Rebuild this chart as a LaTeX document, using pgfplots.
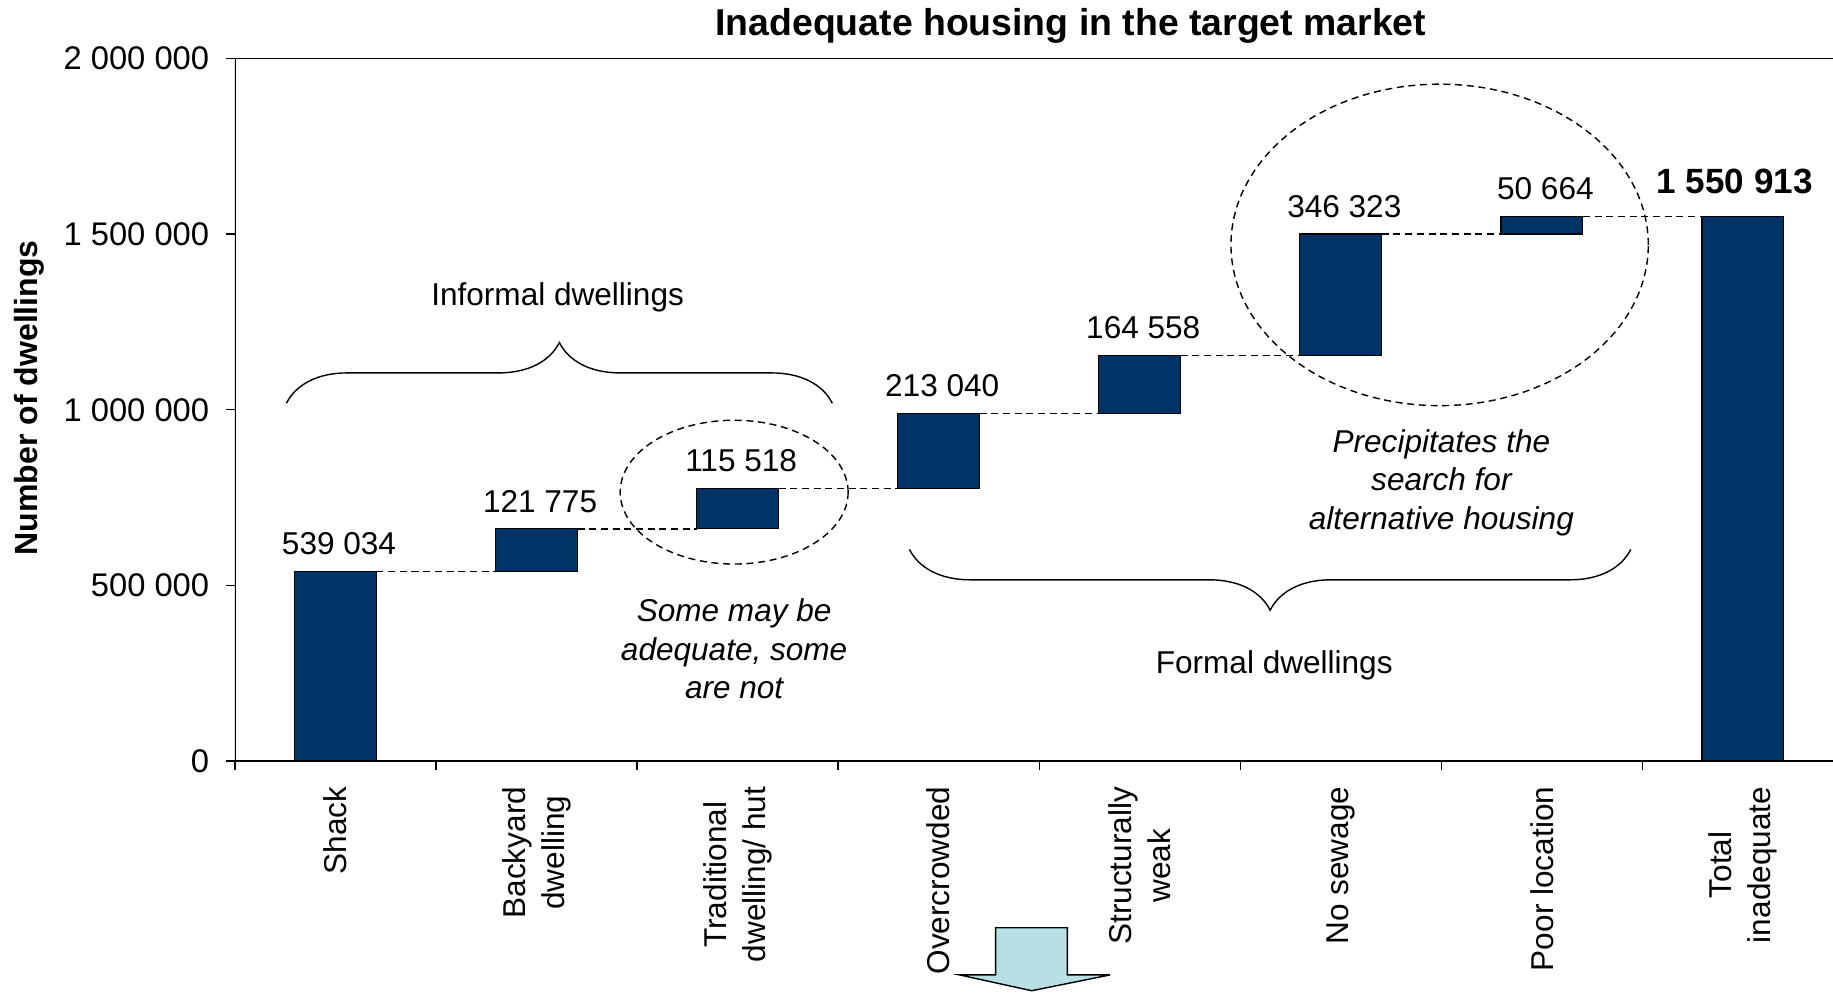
\documentclass[border=0pt]{standalone}
\usepackage{fontspec}
\setmainfont{Liberation Sans}
\usepackage{pgfplots}
\pgfplotsset{compat=1.18}
\usetikzlibrary{decorations.pathreplacing}
\definecolor{navy}{RGB}{0,51,102}
\definecolor{arrowblue}{RGB}{184,224,228}
\newcommand{\lab}{\fontsize{13.5}{16.5}\selectfont}
\begin{document}
\begin{tikzpicture}
\pgfplotsset{
  common/.style={
    at={(100.5pt,100pt)}, anchor=south west,
    scale only axis, width=683.5pt, height=300.5pt,
    xmin=-0.5, xmax=7.448, ymin=0, ymax=2000000,
  }
}
\begin{axis}[
  common,
  ybar stacked, bar width=35pt,
  axis line style={draw=none},
  xtick={0,...,7},
  xticklabels={Shack, Backyard\\dwelling, Traditional\\dwelling/ hut, Overcrowded, Structurally\\weak, No sewage, Poor location, Total\\inadequate},
  minor xtick={-0.5,0.5,...,6.5},
  major x tick style={draw=none},
  xtick pos=left, ytick pos=left,
  tick align=outside,
  major tick length=4pt, minor tick length=4pt,
  tick style={black, line width=0.6pt},
  ytick={0,500000,1000000,1500000,2000000},
  yticklabels={0,500 000,1 000 000,1 500 000,2 000 000},
  scaled y ticks=false,
  yticklabel style={font=\fontsize{14}{16.5}\selectfont, anchor=east, xshift=-3.5pt},
  xticklabel style={rotate=90, anchor=east, align=center, font=\lab, xshift=-3.5pt},
  ylabel={Number of dwellings},
  ylabel style={font=\fontsize{13.7}{16}\selectfont\bfseries, at={(axis description cs:-0.1287,0.517)}, anchor=center},
]
\addplot[draw=none, fill=none] coordinates {(0,0) (1,539034) (2,660809) (3,776327) (4,989367) (5,1153925) (6,1500248) (7,0)};
\addplot[fill=navy, draw=black, line width=0.5pt]
  coordinates {(0,539034) (1,121775) (2,115518) (3,213040) (4,164558) (5,346323) (6,50664) (7,1550913)};
\draw[black, line width=0.6pt] (rel axis cs:1,0) -- (rel axis cs:0,0) -- (rel axis cs:0,1) -- (rel axis cs:1,1);
\end{axis}
\begin{axis}[common, hide axis, clip=false]
\addplot[black, dash pattern=on 3pt off 2pt, line width=0.6pt] coordinates {(0.2035,539034) (0.7965,539034)};
\addplot[black, dash pattern=on 3pt off 2pt, line width=0.6pt] coordinates {(1.2035,660809) (1.7965,660809)};
\addplot[black, dash pattern=on 3pt off 2pt, line width=0.6pt] coordinates {(2.2035,776327) (2.7965,776327)};
\addplot[black, dash pattern=on 3pt off 2pt, line width=0.6pt] coordinates {(3.2035,989367) (3.7965,989367)};
\addplot[black, dash pattern=on 3pt off 2pt, line width=0.6pt] coordinates {(4.2035,1153925) (4.7965,1153925)};
\addplot[black, dash pattern=on 3pt off 2pt, line width=0.6pt] coordinates {(5.2035,1500248) (5.7965,1500248)};
\addplot[black, dash pattern=on 3pt off 2pt, line width=0.6pt] coordinates {(6.2035,1550913) (6.7965,1550913)};
\addplot[draw=none, mark=none, point meta=explicit symbolic,
  nodes near coords,
  nodes near coords style={font=\lab, anchor=south, yshift=3.5pt, xshift=1.5pt}]
  coordinates {(0,539034) [539 034] (1,660809) [121 775] (2,776327) [115 518] (3,989367) [213 040] (4,1153925) [164 558] (5,1500248) [346 323] (6,1550912) [50 664]};
\addplot[draw=none, mark=none, point meta=explicit symbolic,
  nodes near coords,
  nodes near coords style={font=\fontsize{15}{18}\selectfont\bfseries, anchor=south, yshift=6pt, xshift=-3.5pt}]
  coordinates {(7,1550913) [1 550 913]};
\end{axis}
\begin{scope}[shift={(0,425.5pt)}, x=0.5pt, y=-0.5pt]
  \node[font=\fontsize{16}{19}\selectfont\bfseries] at (916,22) {Inadequate housing in the target market};
  \draw[line width=0.6pt, decorate, decoration={brace, amplitude=26pt}] (245,345) -- (712,345);
  \draw[line width=0.6pt, decorate, decoration={brace, amplitude=26pt}] (1395,470) -- (778,470);
  \draw[line width=0.6pt, dash pattern=on 3pt off 2pt] (628,421) ellipse [x radius=48.75pt, y radius=30.75pt];
  \draw[line width=0.6pt, dash pattern=on 3pt off 2pt] (1231.5,209.5) ellipse [x radius=89.25pt, y radius=68.75pt];
  \node[font=\lab] at (477,254) {Informal dwellings};
  \node[font=\lab] at (1090,569) {Formal dwellings};
  \node[font=\lab\itshape, align=center] at (628,555) {Some may be\\adequate, some\\are not};
  \node[font=\lab\itshape, align=center] at (1233,413) {Precipitates the\\search for\\alternative housing};
  \draw[fill=arrowblue, line width=0.6pt] (851.7,793.6) -- (913,793.6) -- (913,834) -- (949.5,834) -- (882.5,847.5) -- (821,834) -- (851.7,834) -- cycle;
\end{scope}
\pgfresetboundingbox
\useasboundingbox (0,0) rectangle (784pt,425.5pt);
\end{tikzpicture}
\end{document}
